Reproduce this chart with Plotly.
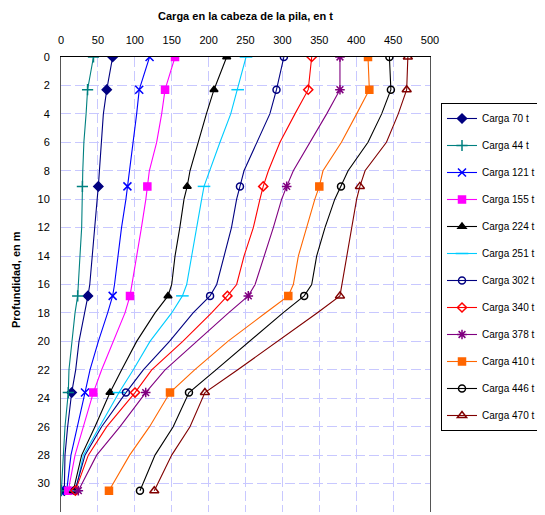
import plotly.graph_objects as go

# Depths (m) along each curve; gauge (marker) depths are a subset
depths = [0, 2.3, 4, 6, 8, 9.1, 10, 12, 14, 16, 16.8, 18, 20, 22, 23.6, 26, 28, 30.5]
gauge_idx = [0, 1, 5, 10, 14, 17]

labels = ["Carga 70 t", "Carga 44 t", "Carga 121 t", "Carga 155 t", "Carga 224 t",
          "Carga 251 t", "Carga 302 t", "Carga 340 t", "Carga 378 t", "Carga 410 t",
          "Carga 446 t", "Carga 470 t"]

c70 = [70, 62, 57.4, 55, 52, 50.6, 49, 46, 42.5, 39, 36.5, 31.6, 24.4, 19.9, 14.5, 9, 5.4, 4.5]
c44 = [44, 36, 34, 31, 29.5, 29, 29, 28, 25.7, 23.5, 22.6, 19, 14.5, 10.8, 9.9, 5.4, 3.2, 0.5]
c121 = [120, 106, 102.5, 98, 92.6, 90, 88, 82, 77.7, 72.5, 70, 63.2, 50.6, 39.3, 32.5, 22.6, 13.5, 7.7]
c155 = [154.5, 141, 136.4, 129.6, 119.7, 117, 115, 109, 102.5, 96, 93.5, 86.7, 70.9, 55.1, 43.8, 30.3, 19, 9.9]
c224 = [224.5, 207.3, 197, 186, 174.8, 171, 166.7, 161, 154.5, 150, 145, 127.4, 102.5, 82.2, 66.4, 46, 28, 16.7]
c251 = [250.7, 239.4, 230, 215.4, 202, 193.8, 190.6, 184, 177, 170.3, 164.5, 150, 120.6, 98, 78.6, 52.8, 30.3, 19.9]
c302 = [302, 292, 283, 265, 248, 242.5, 238, 231, 221, 211, 202, 179, 147, 111.5, 88, 55, 32.5, 19]
c340 = [339.7, 335, 317, 296.7, 281, 274, 269.6, 260.6, 248, 238, 225.5, 204, 165, 122.9, 100.3, 62, 37, 19.5]
c378 = [378, 378, 360, 337, 314.8, 305.8, 299, 287.7, 275, 263, 253.8, 227, 184, 141, 114.8, 80, 48.3, 23.5]
c410 = [416, 417.8, 400.6, 380, 355, 350, 344, 333, 321.6, 314.8, 308, 277, 226, 181, 147.7, 120, 93, 65]
c446 = [445, 447, 434.5, 416, 389, 379.4, 371, 357.7, 346.4, 339.7, 329.5, 300.8, 256, 210, 173.4, 152, 127.4, 107]
c470 = [470, 468.4, 457, 441, 412, 405, 400.6, 394, 387, 380, 378, 347, 294, 239.5, 195, 174.8, 150, 126.4]

series = [c70, c44, c121, c155, c224, c251, c302, c340, c378, c410, c446, c470]

colors = ["#000080", "#008080", "#0000FF", "#FF00FF", "#000000", "#00CCFF",
          "#000080", "#FF0000", "#800080", "#FF6600", "#000000", "#800000"]
symbols = ["diamond", "cross-thin", "x-thin", "square", "triangle-up", "line-ew",
           "circle-open", "diamond-open", "asterisk-open", "square", "circle-open", "triangle-up-open"]
sizes = [7, 8, 8, 7, 7, 9, 7, 7, 8, 7, 7, 8]

fig = go.Figure()

# curves
for i, vals in enumerate(series):
    fig.add_trace(go.Scatter(
        x=vals, y=depths, mode="lines",
        line=dict(color=colors[i], width=1.1),
        legendgroup=labels[i], showlegend=False, hoverinfo="skip"))

# gauge markers (separated by gaps so no extra segments are drawn)
for i, vals in enumerate(series):
    xs, ys = [], []
    for k in gauge_idx:
        xs += [vals[k], None]
        ys += [depths[k], None]
    fig.add_trace(go.Scatter(
        x=xs, y=ys, mode="lines+markers", connectgaps=False,
        name=labels[i], legendgroup=labels[i],
        line=dict(color=colors[i], width=1.1),
        marker=dict(symbol=symbols[i], size=sizes[i], color=colors[i],
                    line=dict(color=colors[i], width=1.5))))

W, H = 537, 507  # page body adds an 8px offset
grid = "#C8C8FF"
fig.update_layout(
    width=W, height=H,
    margin=dict(l=53, r=115, t=49, b=3, autoexpand=False),
    paper_bgcolor="white", plot_bgcolor="white",
    font=dict(family="Liberation Sans, Arial, sans-serif", size=11, color="#000000"),
    showlegend=True,
    legend=dict(x=(441 - 61) / 369, xanchor="left", y=(512 - 103) / 455, yanchor="top",
                bordercolor="#000000", borderwidth=1, bgcolor="white",
                font=dict(size=10), traceorder="grouped", tracegroupgap=8,
                itemwidth=30),
    title=dict(text="<b>Carga en la cabeza de la pila, en t</b>",
               x=0.5, xref="paper", xanchor="center",
               y=1 - 8 / H, yref="container", yanchor="middle",
               font=dict(size=11)),
    xaxis=dict(side="top", range=[0, 500], dtick=50, tick0=0,
               showgrid=True, gridcolor=grid, griddash="10px,4px", gridwidth=1,
               showline=True, linecolor="#000000", linewidth=1, mirror=False,
               ticks="", ticklabelstandoff=8, zeroline=False, automargin=False,
               tickfont=dict(size=11)),
    yaxis=dict(range=[32, 0], dtick=2, tick0=0,
               showgrid=True, gridcolor=grid, griddash="10px,4px", gridwidth=1,
               showline=True, linecolor="#555555", linewidth=1, mirror=True,
               ticks="", ticklabelstandoff=8, zeroline=False, automargin=False,
               tickfont=dict(size=11)),
    annotations=[dict(text="<b>Profundidad, en m</b>", xref="paper", yref="paper",
                      x=(16 - 61) / 369, y=(512 - 280) / 455,
                      xanchor="center", yanchor="middle", textangle=-90,
                      showarrow=False, font=dict(size=11))],
)

fig.write_html("out.html")
